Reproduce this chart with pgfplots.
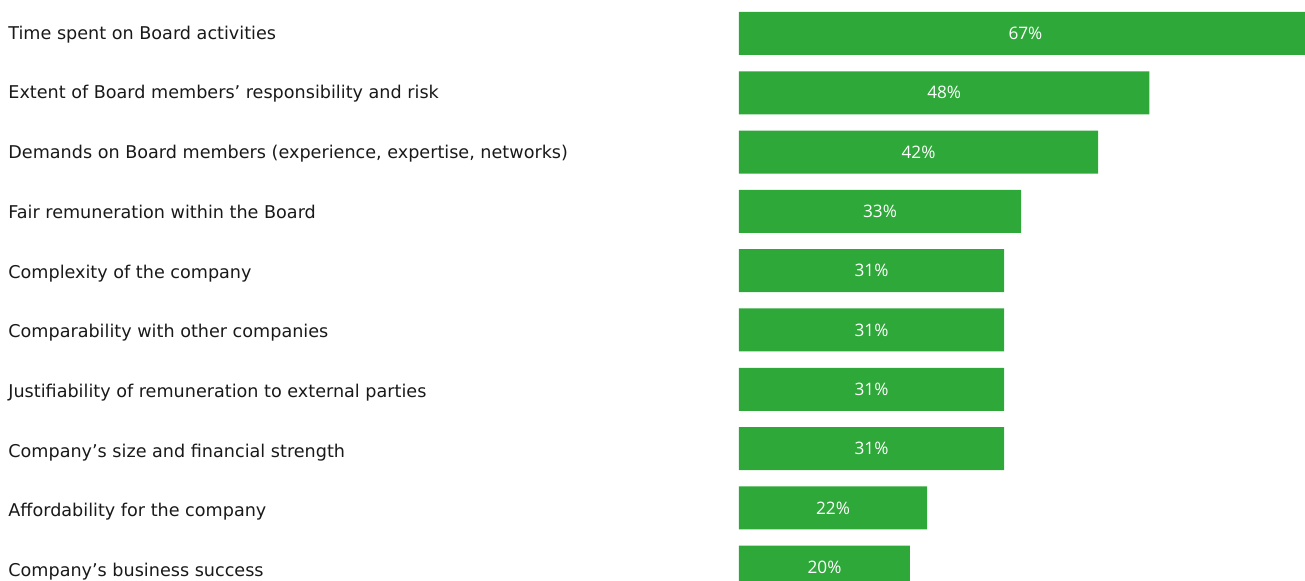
\documentclass[border=0pt]{standalone}
\usepackage{fontspec}
\setmainfont{DejaVu Sans}
\newfontfamily\valfont{Open Sans}
\usepackage{pgfplots}
\usepackage{pgfplotstable}
\pgfplotsset{compat=1.18}
\definecolor{bargreen}{RGB}{46,168,57}
\pgfplotstableread{
y v
1 67
2 48
3 42
4 33
5 31
6 31
7 31
8 31
9 22
10 20
}\datatable
\begin{document}
\begin{tikzpicture}
\begin{axis}[
  at={(0,0)}, anchor=south west,
  scale only axis,
  width=283pt, height=290.5pt,
  xmin=0, xmax=66.2,
  ymin=0.435, ymax=10.233,
  y dir=reverse,
  axis line style={draw=none},
  tick style={draw=none},
  xtick=\empty,
  ytick={1,2.00675,3.0135,4.02,5.027,6.034,7.0405,8.047,9.054,10.061},
  yticklabels={
    Time spent on Board activities,
    Extent of Board members’ responsibility and risk,
    {Demands on Board members (experience, expertise, networks)},
    Fair remuneration within the Board,
    Complexity of the company,
    Comparability with other companies,
    Justifiability of remuneration to external parties,
    Company’s size and financial strength,
    Affordability for the company,
    Company’s business success},
  yticklabel style={anchor=base west, inner sep=0pt, xshift=-365.5pt, yshift=-2.9pt,
    font=\fontsize{8.8pt}{10pt}\selectfont, text=black!90},
  clip=true,
]
\addplot[xbar, bar width=21.5pt, fill=bargreen, draw=none] table[x=v, y=y] {\datatable};
\addplot[draw=none, mark=none, nodes near coords, point meta=explicit,
  nodes near coords align=center,
  every node near coord/.append style={anchor=center, text=white, inner sep=0pt,
    font=\valfont\fontsize{8.6pt}{10pt}\selectfont},
  nodes near coords={\pgfmathprintnumber[assume math mode=true]{\pgfplotspointmeta}\%}]
  table[x expr=\thisrow{v}/2, y=y, meta=v] {\datatable};
\end{axis}
\pgfresetboundingbox
\path[use as bounding box] (-369.5pt,0) rectangle (283pt,290.5pt);
\end{tikzpicture}
\end{document}
